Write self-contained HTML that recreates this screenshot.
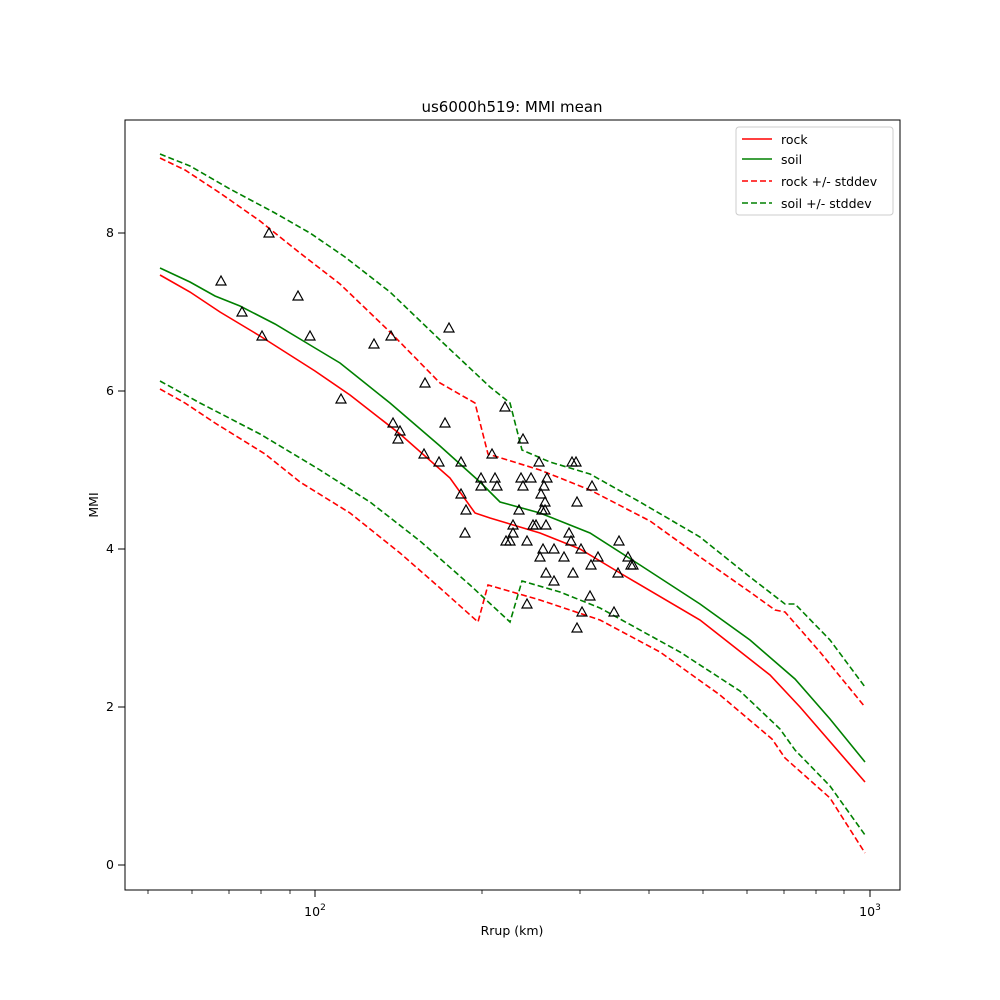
<!DOCTYPE html>
<html><head><meta charset="utf-8"><style>body{margin:0;background:#fff}svg{display:block;font-family:"DejaVu Sans","Liberation Sans",sans-serif}</style></head><body>
<svg width="1000" height="1000" viewBox="0 0 1000 1000" xmlns="http://www.w3.org/2000/svg">
<defs><path id="t" d="M0,-5 L-5,4 L5,4 Z" fill="none" stroke="#000" stroke-width="1.2"/></defs>
<rect width="1000" height="1000" fill="#fff"/>
<text x="512" y="112" font-size="15" text-anchor="middle">us6000h519: MMI mean</text>
<g fill="none" stroke-width="1.6">
<polyline stroke="red" points="160,275 190,292 220,312 260,336 315,371 350,395 400,434 450,478 475,513 490,518 540,533 580,549 620,573 700,620 770,675 800,707 865,782"/>
<polyline stroke="green" points="160,268 190,282 215,296 240,306 275,324 315,348 340,363 390,403 440,446 480,482 500,502 540,513 590,533 640,565 700,604 750,640 795,679 830,719 865,762"/>
<g stroke-dasharray="6,3">
<polyline stroke="red" points="160,158 185,170 220,193 260,221 300,253 340,284 390,332 440,383 475,403 488,454 540,470 590,490 650,521 700,557 750,592 775,610 785,612 820,652 865,707"/>
<polyline stroke="green" points="160,154 190,166 230,189 275,213 310,233 345,257 390,292 440,340 490,387 510,403 522,450 550,462 590,474 640,502 700,537 750,577 785,604 795,604 830,640 865,687"/>
<polyline stroke="red" points="160,389 185,403 215,423 265,454 300,482 350,513 400,553 440,588 478,622 488,585 540,600 600,620 660,652 720,695 772,739 785,758 830,798 865,853"/>
<polyline stroke="green" points="160,381 200,403 260,434 320,470 370,502 420,541 470,585 510,622 522,581 560,592 600,608 680,652 740,691 780,729 795,750 830,786 865,835"/>
</g></g>
<g>
<use href="#t" x="221" y="281"/><use href="#t" x="242" y="312"/><use href="#t" x="269" y="233"/><use href="#t" x="298" y="296"/><use href="#t" x="262" y="336"/><use href="#t" x="310" y="336"/><use href="#t" x="341" y="399"/><use href="#t" x="374" y="344"/><use href="#t" x="391" y="336"/><use href="#t" x="393" y="423"/><use href="#t" x="400" y="431"/><use href="#t" x="398" y="439"/><use href="#t" x="425" y="383"/><use href="#t" x="424" y="454"/><use href="#t" x="439" y="462"/><use href="#t" x="445" y="423"/><use href="#t" x="449" y="328"/><use href="#t" x="461" y="462"/><use href="#t" x="461" y="494"/><use href="#t" x="466" y="510"/><use href="#t" x="465" y="533"/><use href="#t" x="481" y="478"/><use href="#t" x="481" y="486"/><use href="#t" x="492" y="454"/><use href="#t" x="495" y="478"/><use href="#t" x="497" y="486"/><use href="#t" x="505" y="407"/><use href="#t" x="506" y="541"/><use href="#t" x="510" y="541"/><use href="#t" x="513" y="525"/><use href="#t" x="513" y="533"/><use href="#t" x="519" y="510"/><use href="#t" x="523" y="486"/><use href="#t" x="523" y="439"/><use href="#t" x="521" y="478"/><use href="#t" x="527" y="541"/><use href="#t" x="527" y="604"/><use href="#t" x="531" y="478"/><use href="#t" x="533" y="525"/><use href="#t" x="536" y="525"/><use href="#t" x="539" y="462"/><use href="#t" x="540" y="557"/><use href="#t" x="541" y="494"/><use href="#t" x="542" y="510"/><use href="#t" x="543" y="549"/><use href="#t" x="544" y="486"/><use href="#t" x="545" y="502"/><use href="#t" x="545" y="510"/><use href="#t" x="546" y="525"/><use href="#t" x="546" y="573"/><use href="#t" x="547" y="478"/><use href="#t" x="554" y="549"/><use href="#t" x="554" y="581"/><use href="#t" x="564" y="557"/><use href="#t" x="569" y="533"/><use href="#t" x="571" y="541"/><use href="#t" x="572" y="462"/><use href="#t" x="573" y="573"/><use href="#t" x="576" y="462"/><use href="#t" x="577" y="502"/><use href="#t" x="581" y="549"/><use href="#t" x="582" y="612"/><use href="#t" x="577" y="628"/><use href="#t" x="590" y="596"/><use href="#t" x="591" y="565"/><use href="#t" x="592" y="486"/><use href="#t" x="598" y="557"/><use href="#t" x="619" y="541"/><use href="#t" x="618" y="573"/><use href="#t" x="614" y="612"/><use href="#t" x="628" y="557"/><use href="#t" x="631" y="565"/><use href="#t" x="633" y="565"/>
</g>
<rect x="125" y="120" width="775" height="770" fill="none" stroke="#000" stroke-width="1"/>
<g stroke="#000" stroke-width="1">
<line x1="315" y1="890" x2="315" y2="897"/><line x1="870" y1="890" x2="870" y2="897"/>
<g stroke-width="0.8"><line x1="148" y1="890" x2="148" y2="894"/><line x1="192" y1="890" x2="192" y2="894"/><line x1="229" y1="890" x2="229" y2="894"/><line x1="261" y1="890" x2="261" y2="894"/><line x1="290" y1="890" x2="290" y2="894"/><line x1="482" y1="890" x2="482" y2="894"/><line x1="580" y1="890" x2="580" y2="894"/><line x1="649" y1="890" x2="649" y2="894"/><line x1="703" y1="890" x2="703" y2="894"/><line x1="747" y1="890" x2="747" y2="894"/><line x1="784" y1="890" x2="784" y2="894"/><line x1="816" y1="890" x2="816" y2="894"/><line x1="844" y1="890" x2="844" y2="894"/></g>
<line x1="118" y1="865" x2="125" y2="865"/><line x1="118" y1="707" x2="125" y2="707"/><line x1="118" y1="549" x2="125" y2="549"/><line x1="118" y1="391" x2="125" y2="391"/><line x1="118" y1="233" x2="125" y2="233"/>
</g>
<g font-size="12.5">
<text x="315" y="916" text-anchor="middle">10<tspan dy="-6" font-size="9">2</tspan></text>
<text x="870" y="916" text-anchor="middle">10<tspan dy="-6" font-size="9">3</tspan></text>
<g text-anchor="end"><text x="114" y="869">0</text><text x="114" y="711">2</text><text x="114" y="553">4</text><text x="114" y="395">6</text><text x="114" y="237">8</text></g>
<text x="512" y="935" text-anchor="middle">Rrup (km)</text>
<text transform="translate(98,505) rotate(-90)" text-anchor="middle">MMI</text>
</g>
<rect x="736" y="127" width="157" height="88" rx="3" fill="#fff" stroke="#ccc"/>
<g stroke-width="1.6"><line x1="742" y1="139" x2="772" y2="139" stroke="red"/><line x1="742" y1="159" x2="772" y2="159" stroke="green"/><line x1="742" y1="181" x2="772" y2="181" stroke="red" stroke-dasharray="6,3"/><line x1="742" y1="203" x2="772" y2="203" stroke="green" stroke-dasharray="6,3"/></g>
<g font-size="12.5"><text x="781" y="144">rock</text><text x="781" y="164">soil</text><text x="781" y="186">rock +/- stddev</text><text x="781" y="208">soil +/- stddev</text></g>
</svg>
</body></html>
